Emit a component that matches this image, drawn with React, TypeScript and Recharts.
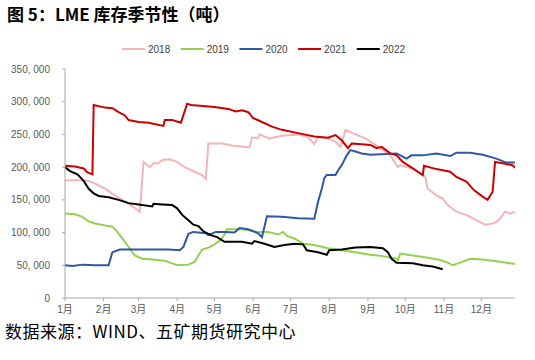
import React from 'react';
import { LineChart, Line, XAxis, YAxis } from 'recharts';

const monthTicks = [0, 31, 59, 90, 120, 151, 181, 212, 243, 273, 304, 334];
const monthLabels = ['1月', '2月', '3月', '4月', '5月', '6月', '7月', '8月', '9月', '10月', '11月', '12月'];
const yTicks = [0, 50000, 100000, 150000, 200000, 250000, 300000, 350000];
const seriesNames = ['2018', '2019', '2020', '2021', '2022'];
const seriesColors = ['#F4B4B8', '#92D050', '#2E58A6', '#CC0000', '#000000'];

const d2018: [number, number][] = [
  [0, 180000], [11, 180000], [19, 179000], [24, 175000], [32, 167000], [40, 157000], [48, 148000], [55, 139000],
  [60, 132000], [63, 208000], [68, 200000], [71, 206000], [75, 206000], [78, 211000], [84, 212000], [90, 208000],
  [96, 200000], [104, 193000], [110, 188000], [113, 182000], [115, 236000], [126, 236000], [134, 233000],
  [148, 230000], [150, 245000], [155, 245000], [156, 250000], [164, 244000], [174, 248000], [187, 250000],
  [195, 246000], [200, 235000], [203, 246000], [211, 244000], [217, 239000], [221, 231000], [225, 257000],
  [233, 250000], [241, 244000], [245, 239000], [249, 234000], [253, 229000], [261, 218000], [267, 200000],
  [269, 203000], [274, 200000], [279, 198000], [289, 185000], [291, 167000], [298, 157000], [303, 152000],
  [307, 142000], [314, 132000], [322, 127000], [328, 121000], [333, 116000], [337, 112000], [344, 114000],
  [348, 119000], [353, 132000], [357, 129000], [361, 132000],
];

const d2019: [number, number][] = [
  [0, 129000], [8, 128000], [14, 124000], [19, 117000], [24, 114000], [32, 111000], [38, 109000], [42, 101000],
  [46, 91000], [51, 78000], [56, 65000], [62, 60000], [70, 59000], [80, 57000], [86, 53000], [90, 50000],
  [99, 51000], [104, 55000], [107, 65000], [110, 74000], [115, 77000], [120, 82000], [125, 89000], [128, 97000],
  [130, 105000], [142, 105000], [155, 101000], [163, 101000], [171, 97000], [175, 101000], [178, 95000],
  [184, 91000], [191, 83000], [200, 81000], [211, 76000], [222, 73000], [233, 70000], [245, 66000], [255, 64000],
  [266, 60000], [267, 58000], [269, 68000], [279, 65000], [290, 62000], [301, 58000], [307, 54000], [311, 50000],
  [317, 54000], [325, 60000], [335, 59000], [346, 56000], [361, 52000],
];

const d2020: [number, number][] = [
  [0, 50000], [6, 49000], [14, 51000], [24, 50000], [35, 50000], [38, 70000], [44, 74000], [56, 74000],
  [70, 74000], [83, 74000], [92, 73000], [95, 78000], [99, 98000], [103, 101000], [113, 99000], [115, 96000],
  [121, 101000], [128, 101000], [136, 100000], [140, 107000], [147, 105000], [155, 99000], [158, 93000],
  [162, 125000], [174, 124000], [187, 122000], [200, 121000], [203, 147000], [206, 167000], [208, 183000],
  [210, 188000], [217, 188000], [219, 195000], [222, 203000], [226, 218000], [229, 226000], [233, 224000],
  [238, 221000], [245, 219000], [266, 221000], [274, 213000], [278, 218000], [287, 218000], [298, 221000],
  [309, 217000], [314, 222000], [325, 222000], [335, 219000], [346, 213000], [354, 207000], [361, 207000],
];

const d2021: [number, number][] = [
  [0, 202000], [8, 201000], [15, 198000], [18, 192000], [22, 189000], [23, 295000], [32, 291000], [38, 290000],
  [43, 284000], [48, 279000], [51, 272000], [59, 269000], [67, 268000], [79, 263000], [80, 272000], [86, 272000],
  [93, 268000], [98, 297000], [101, 295000], [113, 293000], [120, 292000], [131, 289000], [137, 285000],
  [142, 287000], [147, 284000], [151, 275000], [158, 269000], [166, 262000], [174, 257000], [187, 252000],
  [200, 247000], [211, 245000], [217, 249000], [222, 241000], [227, 229000], [230, 236000], [238, 235000],
  [245, 234000], [250, 229000], [254, 231000], [261, 221000], [266, 218000], [271, 208000], [279, 198000],
  [287, 188000], [288, 202000], [298, 197000], [309, 193000], [314, 185000], [322, 178000], [328, 165000],
  [335, 155000], [339, 150000], [343, 162000], [345, 208000], [351, 206000], [359, 203000], [361, 199000],
];

const d2022: [number, number][] = [
  [0, 200000], [4, 194000], [10, 189000], [15, 179000], [19, 167000], [23, 160000], [27, 156000], [35, 154000],
  [43, 150000], [51, 145000], [59, 143000], [70, 140000], [71, 144000], [78, 143000], [86, 142000], [90, 137000],
  [94, 127000], [99, 119000], [103, 112000], [107, 110000], [111, 102000], [117, 96000], [122, 93000],
  [128, 86000], [142, 86000], [150, 83000], [152, 87000], [160, 83000], [168, 78000], [176, 81000],
  [184, 83000], [191, 82000], [194, 73000], [203, 70000], [210, 66000], [212, 73000], [222, 74000],
  [233, 77000], [245, 78000], [255, 76000], [259, 70000], [262, 60000], [266, 54000], [279, 53000],
  [287, 50000], [295, 48000], [303, 44000],
];

const allSeries = [d2018, d2019, d2020, d2021, d2022].map((arr) => arr.map(([day, v]) => ({ day, v })));

const fmtY = (n: number) => {
  if (n === 0) return '0';
  const th = Math.floor(n / 1000);
  return `${th}, 000`;
};
const fmtX = (n: number) => {
  const i = monthTicks.indexOf(n);
  return i >= 0 ? monthLabels[i] : '';
};

const tickFont = { fontSize: 10, fill: '#595959', fontFamily: '"Liberation Sans", "Noto Sans CJK SC", sans-serif' };

export default function App() {
  return (
    <div style={{ position: 'absolute', left: 0, top: 0, width: 535, height: 360, background: '#fff' }}>
      <div
        style={{
          position: 'absolute', left: 7, top: 4, fontSize: 17, lineHeight: '20px', fontWeight: 700,
          fontFamily: '"Noto Sans CJK SC", sans-serif', color: '#000', whiteSpace: 'nowrap',
        }}
      >
        图 5：LME 库存季节性（吨）
      </div>
      <svg style={{ position: 'absolute', left: 0, top: 0 }} width={535} height={60}>
        {seriesNames.map((name, i) => {
          const x0 = 122 + i * 58.7;
          return (
            <g key={name}>
              <line x1={x0} x2={x0 + 23} y1={49} y2={49} stroke={seriesColors[i]} strokeWidth={2} />
              <text x={x0 + 26} y={52.5} fontSize={10} fill="#404040" fontFamily='"Liberation Sans", sans-serif'>
                {name}
              </text>
            </g>
          );
        })}
      </svg>
      <div style={{ position: 'absolute', left: 0, top: 0 }}>
        <LineChart width={535} height={360} margin={{ top: 69, right: 20, bottom: 42, left: 0 }}>
          <XAxis
            type="number"
            dataKey="day"
            domain={[0, 361]}
            ticks={monthTicks}
            tickFormatter={fmtX}
            allowDataOverflow
            interval={0}
            height={20}
            tickSize={3}
            tickMargin={5}
            axisLine={{ stroke: '#A6A6A6' }}
            tickLine={{ stroke: '#A6A6A6' }}
            tick={tickFont}
          />
          <YAxis
            type="number"
            domain={[0, 350000]}
            ticks={yTicks}
            tickFormatter={fmtY}
            interval={0}
            width={65}
            tickSize={3}
            tickMargin={12}
            axisLine={{ stroke: '#A6A6A6' }}
            tickLine={{ stroke: '#A6A6A6' }}
            tick={tickFont}
          />
          {allSeries.map((data, i) => (
            <Line
              key={seriesNames[i]}
              data={data}
              dataKey="v"
              name={seriesNames[i]}
              type="linear"
              stroke={seriesColors[i]}
              strokeWidth={2}
              dot={false}
              isAnimationActive={false}
            />
          ))}
        </LineChart>
      </div>
      <div
        style={{
          position: 'absolute', left: 5, top: 321, fontSize: 17, lineHeight: '20px', fontWeight: 400,
          letterSpacing: 0.5, fontFamily: '"Noto Sans CJK SC", sans-serif', color: '#000', whiteSpace: 'nowrap',
        }}
      >
        数据来源：WIND、五矿期货研究中心
      </div>
    </div>
  );
}
